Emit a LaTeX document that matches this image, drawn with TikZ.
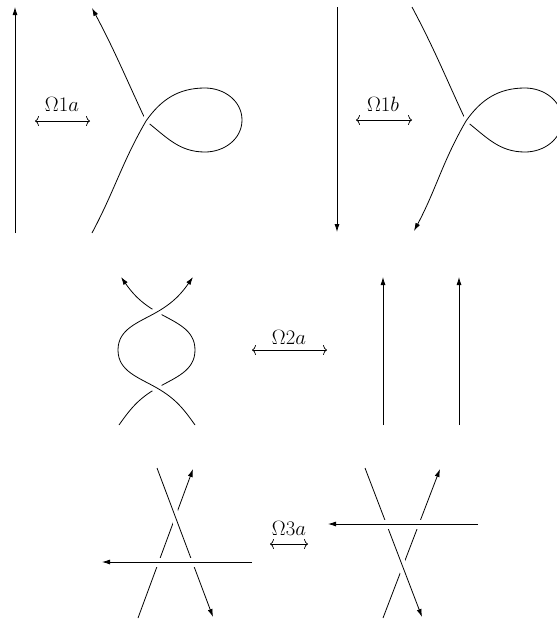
\documentclass[tikz,border=0pt]{standalone}
\usetikzlibrary{arrows.meta}
\begin{document}
\begin{tikzpicture}[x=1pt,y=1pt,line width=0.8pt,line join=round,
  arr/.style={-{Latex[length=8pt,width=5pt]}},
  rarr/.style={{Latex[length=8pt,width=5pt]}-},
  halo/.style={draw=white,line width=9pt},
  move/.style={{To[length=4pt,width=10pt]}-{To[length=4pt,width=10pt]},line width=0.7pt},
  lab/.style={font=\fontsize{21}{24}\selectfont,inner sep=0pt}]
\useasboundingbox (0,0) rectangle (557,-622);
\clip (0,0) rectangle (557,-622);
% ---------- Omega 1a ----------
\draw[arr] (15,-233) -- (15,-7);
\node[lab] (t1a) at (62,-104) {$\Omega1a$};
\coordinate (a1) at (35,-121);
\coordinate (a2) at (90,-121);
\draw[move] (a1) -- (a2);
\draw (146,-121) to[out=55,in=180] (205,-88) to[out=0,in=90] (242,-120)
  to[out=-90,in=0] (205,-152) to[out=180,in=-38] (146,-121);
\draw[arr] (146,-121) to[out=115,in=-62] (92,-8);
\draw[halo] (92,-233) to[out=62,in=240] (146,-121) to[out=55,in=180] (205,-88);
\draw (92,-233) to[out=62,in=240] (146,-121) to[out=55,in=180] (205,-88);
% ---------- Omega 1b ----------
\draw[arr] (337,-7) -- (337,-232);
\node[lab] (t1b) at (383,-104) {$\Omega1b$};
\coordinate (b1) at (356,-120);
\coordinate (b2) at (412,-120);
\draw[move] (b1) -- (b2);
\draw (466,-121) to[out=55,in=180] (525,-88) to[out=0,in=90] (562,-120)
  to[out=-90,in=0] (525,-152) to[out=180,in=-38] (466,-121);
\draw (466,-121) to[out=115,in=-62] (412,-7);
\draw[halo] (414,-231) to[out=62,in=240] (466,-121) to[out=55,in=180] (525,-88);
\draw[rarr] (414,-231) to[out=62,in=240] (466,-121) to[out=55,in=180] (525,-88);
% ---------- Omega 2a ----------
\draw[arr] (119,-425) to[out=55,in=210] (157,-388) to[out=30,in=-90] (195,-350)
  to[out=90,in=-30] (157,-312) to[out=150,in=-55] (121,-277);
\draw[halo] (195,-425) to[out=125,in=-30] (157,-388) to[out=150,in=-90] (118,-350)
  to[out=90,in=210] (157,-312) to[out=30,in=235] (186,-284);
\draw[arr] (195,-425) to[out=125,in=-30] (157,-388) to[out=150,in=-90] (118,-350)
  to[out=90,in=210] (157,-312) to[out=30,in=235] (193,-277);
\node[lab] (t2a) at (289,-337) {$\Omega2a$};
\coordinate (c1) at (252,-350);
\coordinate (c2) at (327,-350);
\draw[move] (c1) -- (c2);
\draw[arr] (383,-425) -- (383,-277);
\draw[arr] (459,-425) -- (459,-277);
% ---------- Omega 3a left ----------
\draw[arr] (138,-618) -- (193,-469);
\draw[halo] (157,-468) -- (208,-604);
\draw[arr] (157,-468) -- (213,-617);
\draw[halo] (252,-562) -- (110,-562);
\draw[arr] (252,-562) -- (102,-562);
\node[lab] (t3a) at (289,-528) {$\Omega3a$};
\coordinate (d1) at (270,-544);
\coordinate (d2) at (308,-544);
\draw[move] (d1) -- (d2);
% ---------- Omega 3a right ----------
\draw[arr] (383,-618) -- (440,-469);
\draw[halo] (365,-468) -- (417,-604);
\draw[arr] (365,-468) -- (422,-617);
\draw[halo] (478,-524) -- (336,-524);
\draw[arr] (478,-524) -- (328,-524);
\end{tikzpicture}
\end{document}
